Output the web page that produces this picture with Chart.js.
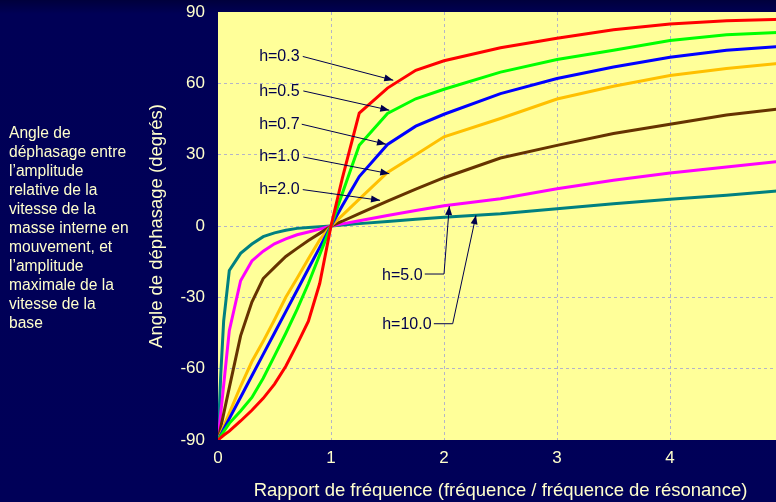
<!DOCTYPE html>
<html lang="fr">
<head>
<meta charset="utf-8">
<script src="https://cdn.jsdelivr.net/npm/chart.js@4.4.1/dist/chart.umd.min.js"></script>
<style>
  html, body { margin: 0; padding: 0; width: 776px; height: 502px; overflow: hidden; }
  body { background: linear-gradient(to bottom, #00003c 0px, #000056 14px, #000058 100%); font-family: Arial, "Liberation Sans", sans-serif; }
  #cadre { position: absolute; left: 0; top: 0; width: 800px; height: 502px; }
  #note { position: absolute; left: 9px; top: 123px; color: #ffffcc; font-size: 15.6px; line-height: 19px; white-space: nowrap; }
</style>
</head>
<body>
<div id="cadre"><canvas id="graphique" width="800" height="502"></canvas></div>
<div id="note">Angle de<br>déphasage entre<br>l’amplitude<br>relative de la<br>vitesse de la<br>masse interne en<br>mouvement, et<br>l’amplitude<br>maximale de la<br>vitesse de la<br>base</div>
<script>
// Rapport de fréquence (axe x) et angles (degrés)
const rapports  = [0, 0.025, 0.05, 0.1, 0.2, 0.3, 0.4, 0.5, 0.6, 0.7, 0.8, 0.9, 1, 1.1, 1.25, 1.5, 1.75, 2, 2.5, 3, 3.5, 4, 4.5, 5];
const angleH03  = [-90, -89, -88, -86.3, -82, -77.5, -72.5, -66.5, -59, -49.8, -40, -24.2, 0, 20, 47.5, 58, 65.5, 69.5, 75, 79, 82.5, 85, 86.3, 87];
const angleH05  = [-90, -88.2, -86.5, -83, -77.8, -72.1, -64, -54.6, -45.1, -35.1, -24.2, -12.1, 0, 13.7, 34, 47.3, 53.5, 57.5, 64.7, 70, 73.9, 78, 80.4, 81.5];
const angleH07  = [-90, -87.8, -85.5, -81, -72, -63, -54, -45, -36, -27, -18, -9, 0, 8.5, 20.8, 34.3, 42, 47, 55.7, 62, 66.9, 71, 73.9, 75.6];
const angleH10  = [-90, -87.2, -84.4, -78.7, -67.4, -57, -48.5, -39.4, -30, -22, -13.8, -5.8, 0, 4.5, 11.3, 22.5, 30, 37.5, 45.2, 53.4, 58.8, 63.3, 66.2, 68.6];
const angleH20  = [-90, -84.5, -79, -68, -46.2, -32, -22.1, -17.4, -12.8, -9.4, -6.1, -3.1, 0, 2, 5.2, 10.5, 15.5, 20.3, 28.6, 33.9, 38.9, 42.8, 46.7, 49.4];
const angleH50  = [-90, -78.5, -67, -44, -23, -14.7, -10.6, -7.5, -5.4, -3.7, -2.5, -1.3, 0, 0.9, 2.2, 4.4, 6.5, 8.5, 11.5, 15.7, 19.2, 22.3, 24.8, 27.3];
const angleH100 = [-90, -62, -40, -18.7, -11.5, -7.6, -4.5, -2.9, -1.8, -1, -0.6, -0.3, 0, 0.4, 1, 1.9, 2.8, 3.7, 5.2, 7.3, 9.4, 11.2, 12.9, 14.9];

const nomsCourbes = ['h=0.3', 'h=0.5', 'h=0.7', 'h=1.0', 'h=2.0', 'h=5.0', 'h=10.0'];
const ticksX = [0, 1, 2, 3, 4, 5];
const ticksY = [-90, -60, -30, 0, 30, 60, 90];

const couleurs = ['#ff0000', '#00ff00', '#0000ff', '#ffc000', '#663300', '#ff00ff', '#008080'];
const series = [angleH03, angleH05, angleH07, angleH10, angleH20, angleH50, angleH100];

const police = 'Arial, "Liberation Sans", sans-serif';
const creme = '#ffffcc';
const encre = '#00004d';
const grille = '#b4b4c8';
const transparent = 'rgba(0,0,0,0)';

// Position des étiquettes h=… et de leurs flèches (en unités du graphique)
const reperes = [
  { texte: [0.364, 71.1], align: 'left',  trace: [[0.75, 71.3], [1.551, 61.3]] },
  { texte: [0.364, 56.4], align: 'left',  trace: [[0.755, 56.8], [1.516, 48.7]] },
  { texte: [0.364, 42.8], align: 'left',  trace: [[0.741, 42.8], [1.487, 34.4]] },
  { texte: [0.364, 29.0], align: 'left',  trace: [[0.755, 29.0], [1.516, 22.0]] },
  { texte: [0.364, 15.4], align: 'left',  trace: [[0.75, 15.3], [1.434, 10.8]] },
  { texte: [1.81, -20.7], align: 'right', trace: [[1.83, -20.2], [2.0, -20.2], [2.047, 8.4]] },
  { texte: [1.89, -41.4], align: 'right', trace: [[1.91, -41.1], [2.077, -41.1], [2.283, 4.5]] }
];

// Fond jaune de la zone de tracé
const fondJaune = {
  id: 'fondJaune',
  beforeDraw(chart) {
    const { ctx, chartArea: a } = chart;
    ctx.save();
    ctx.fillStyle = '#ffff99';
    ctx.fillRect(a.left, a.top, a.right - a.left, a.bottom - a.top);
    ctx.restore();
  }
};

// Étiquettes h=… avec flèches
const etiquettes = {
  id: 'etiquettes',
  afterDatasetsDraw(chart) {
    const { ctx, scales: { x, y } } = chart;
    ctx.save();
    ctx.font = '16px ' + police;
    ctx.fillStyle = encre;
    ctx.strokeStyle = encre;
    ctx.lineWidth = 1;
    ctx.textBaseline = 'middle';
    reperes.forEach((r, i) => {
      ctx.textAlign = r.align;
      ctx.fillText(nomsCourbes[i], x.getPixelForValue(r.texte[0]), y.getPixelForValue(r.texte[1]));
      const pts = r.trace.map(p => [x.getPixelForValue(p[0]), y.getPixelForValue(p[1])]);
      ctx.beginPath();
      ctx.moveTo(pts[0][0], pts[0][1]);
      pts.slice(1).forEach(p => ctx.lineTo(p[0], p[1]));
      ctx.stroke();
      const [xa, ya] = pts[pts.length - 2];
      const [xb, yb] = pts[pts.length - 1];
      const ang = Math.atan2(yb - ya, xb - xa);
      const L = 9, W = 3.5;
      ctx.beginPath();
      ctx.moveTo(xb, yb);
      ctx.lineTo(xb - L * Math.cos(ang) + W * Math.sin(ang), yb - L * Math.sin(ang) - W * Math.cos(ang));
      ctx.lineTo(xb - L * Math.cos(ang) - W * Math.sin(ang), yb - L * Math.sin(ang) + W * Math.cos(ang));
      ctx.closePath();
      ctx.fill();
    });
    ctx.restore();
  }
};

new Chart(document.getElementById('graphique'), {
  type: 'line',
  data: {
    datasets: series.map((serie, i) => ({
      label: nomsCourbes[i],
      data: rapports.map((r, j) => ({ x: r, y: serie[j] })),
      borderColor: couleurs[i],
      backgroundColor: couleurs[i],
      borderWidth: 3,
      pointRadius: 0,
      tension: 0,
      fill: false
    }))
  },
  options: {
    responsive: false,
    animation: false,
    devicePixelRatio: 1,
    layout: { padding: { left: 142, right: 17, top: 12, bottom: 0 } },
    plugins: { legend: { display: false }, tooltip: { enabled: false } },
    scales: {
      x: {
        type: 'linear', min: 0, max: 5,
        afterBuildTicks: s => { s.ticks = ticksX.map(v => ({ value: v })); },
        afterFit: s => { s.height = 62; },
        grid: { color: c => (c.tick && (c.tick.value === 0 || c.tick.value === 5)) ? transparent : grille, drawTicks: true, tickLength: 8, tickColor: transparent, lineWidth: 1 },
        border: { display: false, dash: [3, 3] },
        ticks: { color: creme, font: { size: 17, family: police }, padding: 0, maxRotation: 0, autoSkip: false },
        title: { display: true, text: 'Rapport de fréquence (fréquence / fréquence de résonance)', color: creme, font: { size: 18.5, family: police }, padding: { top: 0, bottom: 0 } }
      },
      y: {
        min: -90, max: 90,
        afterBuildTicks: s => { s.ticks = ticksY.map(v => ({ value: v })); },
        afterFit: s => { s.width = 76; },
        grid: { color: c => (c.tick && Math.abs(c.tick.value) === 90) ? transparent : grille, drawTicks: true, tickLength: 13, tickColor: transparent, lineWidth: 1 },
        border: { display: false, dash: [3, 3] },
        ticks: { color: creme, font: { size: 17, family: police }, padding: 0 },
        title: { display: true, text: 'Angle de déphasage (degrés)', color: creme, font: { size: 18.5, family: police }, padding: { top: 4, bottom: 4 } }
      }
    }
  },
  plugins: [fondJaune, etiquettes]
});
</script>
</body>
</html>
